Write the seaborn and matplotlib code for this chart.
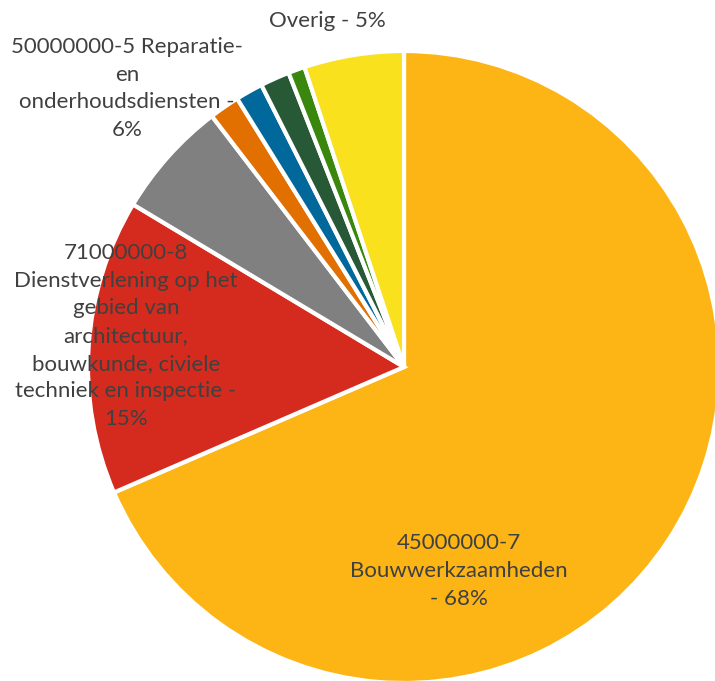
import matplotlib.pyplot as plt
import seaborn as sns

# aandeel per CPV-code (%)
categories = [
    "45000000-7\nBouwwerkzaamheden\n- 68%",
    "71000000-8\nDienstverlening op het\ngebied van\narchitectuur,\nbouwkunde, civiele\ntechniek en inspectie -\n15%",
    "50000000-5 Reparatie-\nen\nonderhoudsdiensten -\n6%",
    "",
    "",
    "",
    "",
    "Overig - 5%",
]
shares = [68.5, 15.1, 6.0, 1.55, 1.4, 1.5, 0.85, 5.1]
colors = ["#FDB515", "#D52B1E", "#808080", "#E17000",
          "#01689B", "#275937", "#39870C", "#F9E11E"]

# label positions, in units of the pie radius
label_pos = {0: (0.174, -0.646), 1: (-0.880, 0.098),
             2: (-0.877, 0.881), 7: (-0.241, 1.095)}

sns.set_theme(style="white")
plt.rcParams['font.family'] = ['Lato', 'DejaVu Sans']

fig = plt.figure(figsize=(7.15, 6.81), dpi=100)
ax = fig.add_axes([88 / 715, -2 / 681, 632 / 715, 632 / 681])
ax.pie(shares, colors=colors, startangle=90, counterclock=False,
       wedgeprops=dict(edgecolor="white", linewidth=3))
ax.set_xlim(-1, 1)
ax.set_ylim(-1, 1)
ax.set_axis_off()

for i, (x, y) in label_pos.items():
    ax.text(x, y, categories[i], ha="center", va="center", fontsize=16,
            color="#404040", linespacing=1.48, clip_on=False)

plt.savefig("out.png", dpi=100)
plt.close()
